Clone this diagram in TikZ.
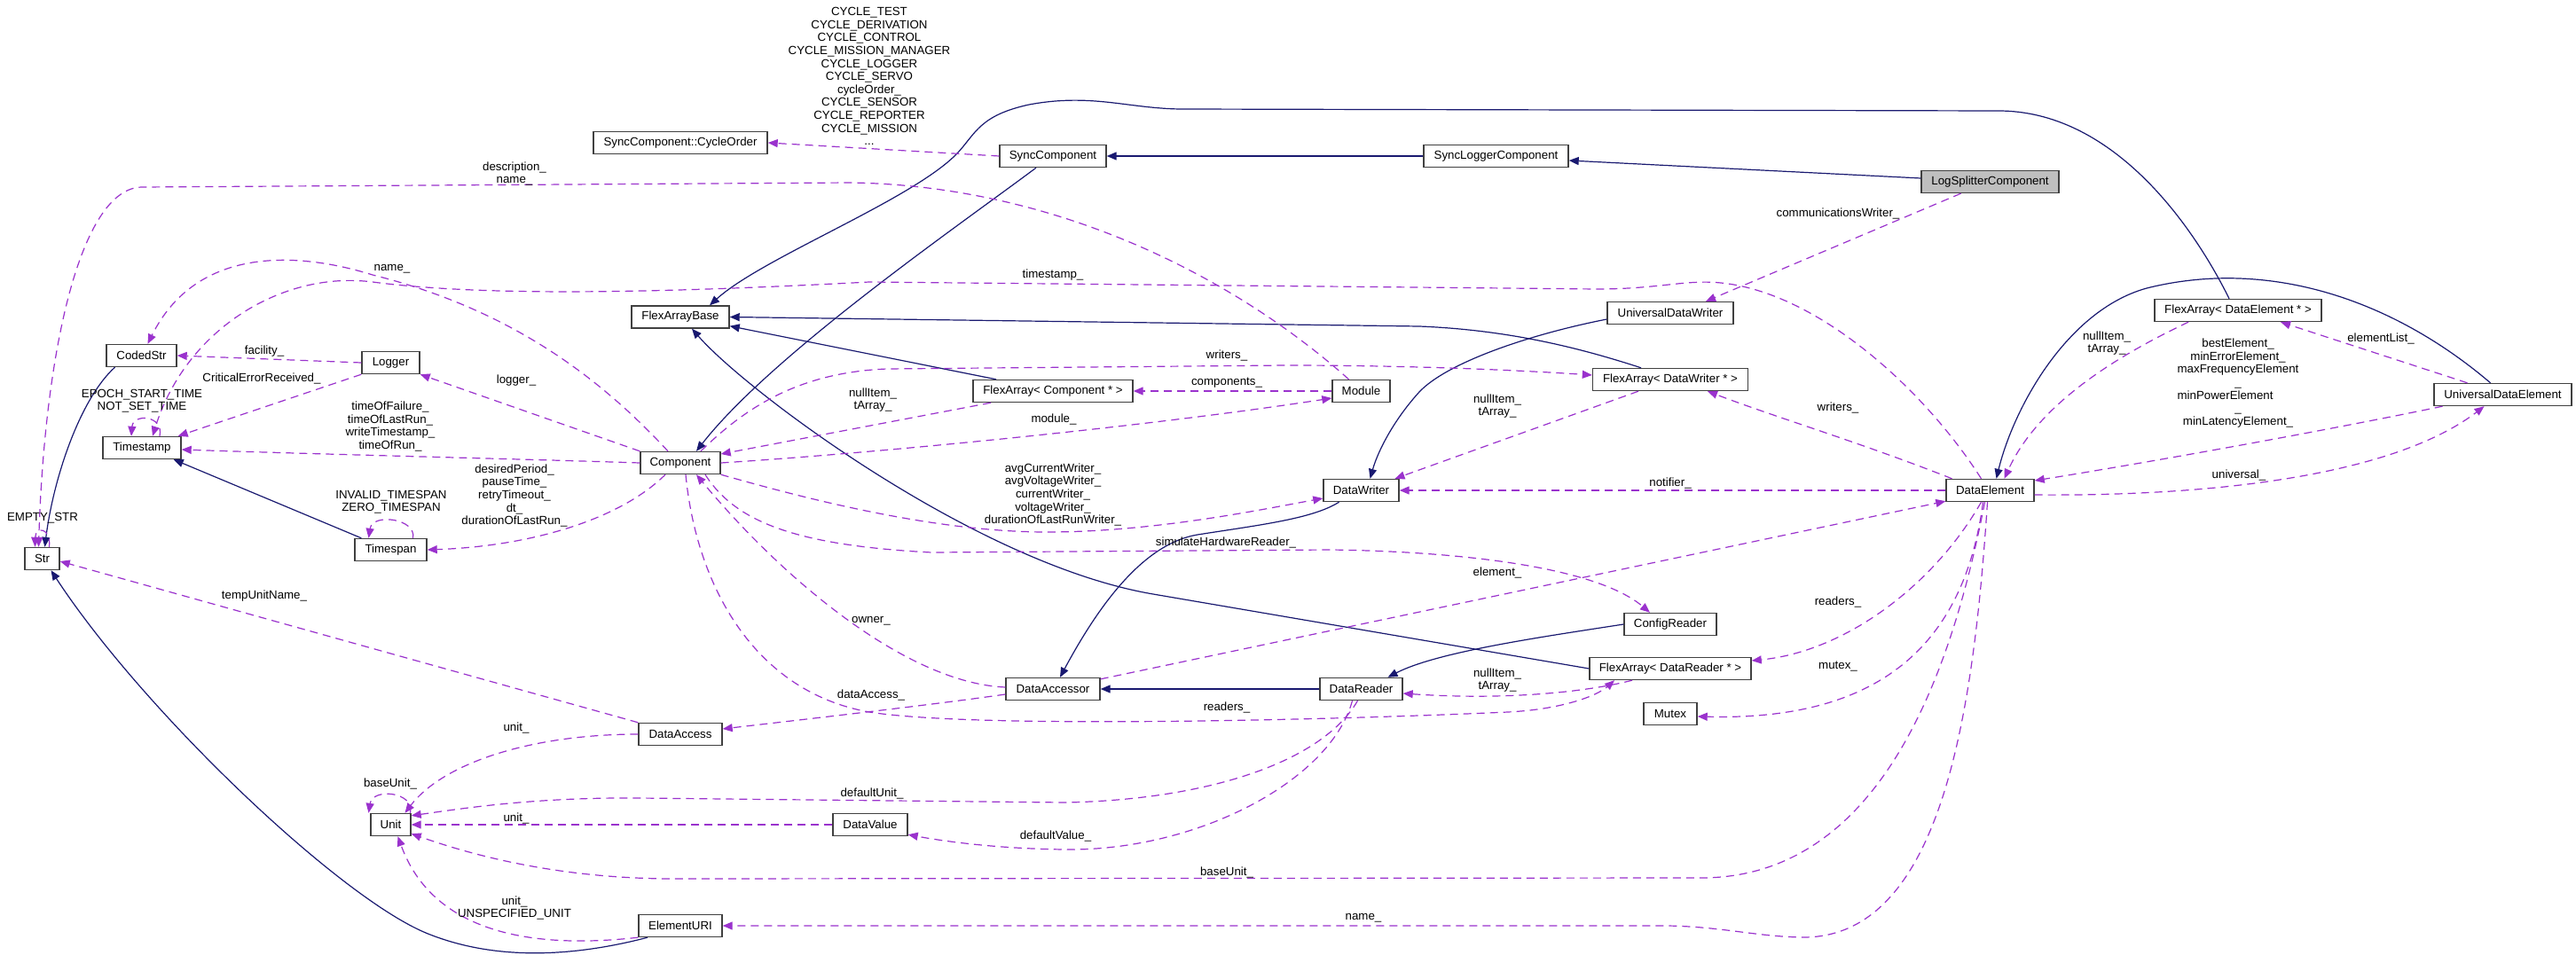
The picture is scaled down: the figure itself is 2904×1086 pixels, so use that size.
\documentclass[tikz,border=0pt]{standalone}
\usepackage{fontspec}
\setmainfont{Liberation Sans}
\usepackage{calc}
\usetikzlibrary{arrows.meta}
\definecolor{dxblue}{RGB}{25,25,112}
\definecolor{dxpurple}{RGB}{154,50,205}
\definecolor{dxgray}{RGB}{191,191,191}
\definecolor{dxborder}{RGB}{64,64,64}
\newcommand{\dxfont}{\fontsize{13.3}{14.6}\selectfont}
\tikzstyle{cls} = [rectangle, draw=dxborder, fill=white, line width=1.4pt, minimum height=25pt, inner sep=0pt, font=\dxfont]
\tikzstyle{inherit} = [line width=1.2pt, draw=dxblue, -{Triangle[length=11pt,width=9pt]}]
\tikzstyle{member} = [line width=1.2pt, draw=dxpurple, dash pattern=on 9pt off 6pt, -{Triangle[length=11pt,width=9pt]}]
\tikzstyle{lbl} = [align=center, inner sep=0pt, font=\dxfont]

\begin{document}
\begin{tikzpicture}[x=1pt, y=-1pt]
\path[use as bounding box, fill=white] (0,0) rectangle (2904,1086);

% Classes
\node (lsc) [cls, minimum width=155pt, fill=dxgray] at (2243.5,205) {LogSplitterComponent};
\node (slc) [cls, minimum width=163pt] at (1686.5,176) {SyncLoggerComponent};
\node (sc) [cls, minimum width=120pt] at (1187,176) {SyncComponent};
\node (co) [cls, minimum width=196pt] at (767,161) {SyncComponent::CycleOrder};
\node (fab) [cls, minimum width=110pt] at (767,357.5) {FlexArrayBase};
\node (comp) [cls, minimum width=90pt] at (767,522) {Component};
\node (cs) [cls, minimum width=79pt] at (159.5,401) {CodedStr};
\node (lg) [cls, minimum width=65pt] at (440.5,409) {Logger};
\node (ts) [cls, minimum width=88pt] at (160,505) {Timestamp};
\node (str) [cls, minimum width=39pt] at (47.5,630) {Str};
\node (tsp) [cls, minimum width=81pt] at (440.5,620) {Timespan};
\node (unit) [cls, minimum width=45pt] at (440.5,930) {Unit};
\node (dac) [cls, minimum width=94pt] at (767,828) {DataAccess};
\node (euri) [cls, minimum width=94pt] at (767,1044) {ElementURI};
\node (dv) [cls, minimum width=84pt] at (981,930) {DataValue};
\node (dacc) [cls, minimum width=106pt] at (1187,777) {DataAccessor};
\node (dr) [cls, minimum width=93pt] at (1534.5,777) {DataReader};
\node (dw) [cls, minimum width=85pt] at (1534.5,553) {DataWriter};
\node (cr) [cls, minimum width=104pt] at (1883,704) {ConfigReader};
\node (fadr) [cls, minimum width=182pt] at (1883,754) {FlexArray< DataReader * >};
\node (mtx) [cls, minimum width=60pt] at (1883,805) {Mutex};
\node (de) [cls, minimum width=99pt] at (2243.5,553) {DataElement};
\node (udw) [cls, minimum width=142pt] at (1883,353) {UniversalDataWriter};
\node (fadw) [cls, minimum width=175pt] at (1883,428) {FlexArray< DataWriter * >};
\node (fac) [cls, minimum width=180pt] at (1187,441) {FlexArray< Component * >};
\node (mod) [cls, minimum width=65pt] at (1534.5,441) {Module};
\node (fade) [cls, minimum width=188pt] at (2523,350) {FlexArray< DataElement * >};
\node (ude) [cls, minimum width=155pt] at (2821.5,445) {UniversalDataElement};

% Inheritance
\draw[inherit] ([yshift=4pt]lsc.west) -- ([yshift=-5pt]slc.east);
\draw[inherit] (slc.west) -- (sc.east);
\draw[inherit] ([xshift=-19pt]sc.south) .. controls (1080,255) and (870,400) .. ([xshift=18pt]comp.north);
\draw[inherit] ([xshift=-10pt]fade.north) .. controls (2470,250) and (2380,125) .. (2253,125) -- (1330,123) .. controls (1270,122) and (1230,105) .. (1160,118) .. controls (1105,130) and (1100,150) .. (1080,172) .. controls (1030,225) and (860,290) .. ([xshift=33pt]fab.north);
\draw[inherit] ([xshift=-33pt]fadw.north) .. controls (1780,392) and (1700,372) .. (1600,368) -- (fab.east);
\draw[inherit] ([xshift=-64pt]fac.north) -- ([yshift=3pt]fab.south east);
\draw[inherit] (fadr.west) -- (1300,670) .. controls (1100,636) and (840,440) .. ([xshift=13pt]fab.south);
\draw[inherit] ([yshift=-7pt]udw.west) .. controls (1720,378) and (1630,410) .. (1600,442) .. controls (1570,475) and (1553,510) .. ([xshift=10pt]dw.north);
\draw[inherit] ([xshift=-25pt]dw.south) .. controls (1480,585) and (1420,592) .. (1350,603) .. controls (1290,613) and (1240,680) .. ([xshift=8pt]dacc.north);
\draw[inherit] (dr.west) -- (dacc.east);
\draw[inherit] (cr.west) .. controls (1740,718) and (1620,735) .. ([xshift=30pt]dr.north);
\draw[inherit] ([xshift=-14pt]ude.north) .. controls (2700,340) and (2560,290) .. (2420,325) .. controls (2330,350) and (2270,460) .. ([xshift=7pt]de.north);
\draw[inherit] ([xshift=-30pt]cs.south) .. controls (90,450) and (60,540) .. ([xshift=3pt]str.north);
\draw[inherit] ([xshift=8pt]tsp.north west) -- ([xshift=-9pt]ts.south east);
\draw[inherit] ([xshift=-37pt]euri.south) .. controls (650,1078) and (560,1085) .. (480,1052) .. controls (380,1010) and (160,800) .. ([xshift=10pt]str.south);

% Members
\draw[member] (sc.west) -- (co.east);
\draw[member] ([xshift=-14pt]mod.north) .. controls (1400,320) and (1200,210) .. (960,206) -- (160,211) .. controls (90,212) and (50,400) .. ([xshift=-4pt]str.north);
\draw[member] ([xshift=-14pt]comp.north) .. controls (680,430) and (580,350) .. (420,310) .. controls (330,282) and (220,280) .. ([xshift=7pt]cs.north);
\draw[member] ([xshift=-10pt]de.north) .. controls (2170,440) and (2050,330) .. (1940,319) .. controls (1900,315) and (1870,326) .. (1800,326) -- (980,318) .. controls (750,330) and (550,335) .. (420,318) .. controls (320,305) and (210,370) .. ([xshift=12pt]ts.north);
\draw[member] (lg.west) -- (cs.east);
\draw[member] (lg.south west) -- ([xshift=-4pt]ts.north east);
\draw[member] (comp.north west) -- (lg.south east);
\draw[member] (comp.west) .. controls (600,518) and (350,512) .. ([yshift=-2pt]ts.east);
\draw[member] ([xshift=-17pt]comp.south) .. controls (700,585) and (600,616) .. (tsp.east);
\draw[member] ([xshift=25pt]tsp.north) .. controls (470,585) and (420,578) .. ([xshift=-25pt]tsp.north);
\draw[member] ([xshift=20pt]ts.north) .. controls (185,468) and (150,466) .. ([xshift=-12pt]ts.north);
\draw[member] ([xshift=8pt]str.north) .. controls (58,595) and (40,593) .. ([xshift=-8pt]str.north);
\draw[member] (dac.north west) -- ([yshift=-3pt]str.east);
\draw[member] (dac.west) .. controls (600,828) and (500,860) .. ([xshift=16pt]unit.north);
\draw[member] ([xshift=22pt]unit.north) .. controls (468,893) and (420,888) .. ([xshift=-25pt]unit.north);
\draw[member] ([xshift=-4pt]dr.south) .. controls (1490,860) and (1360,902) .. (1200,905) -- (720,900) .. controls (600,899) and (520,912) .. ([yshift=-3pt]unit.north east);
\draw[member] (dv.west) -- (unit.east);
\draw[member] ([xshift=-6pt]de.south) .. controls (2200,760) and (2120,988) .. (1920,990) -- (760,991) .. controls (620,991) and (520,960) .. ([yshift=3pt]unit.south east);
\draw[member] (euri.south west) .. controls (560,1075) and (480,1030) .. ([xshift=8pt]unit.south);
\draw[member] ([xshift=-3pt]de.south) .. controls (2225,800) and (2190,1060) .. (2030,1057) .. controls (1980,1056) and (1940,1045) .. (1880,1044) -- (euri.east);
\draw[member] ([xshift=-10pt]dr.south) .. controls (1500,880) and (1350,960) .. (1200,958) .. controls (1120,957) and (1060,948) .. ([yshift=2pt]dv.south east);
\draw[member] ([yshift=2pt]dacc.west) .. controls (1020,770) and (880,650) .. ([xshift=18pt]comp.south);
\draw[member] ([xshift=6pt]comp.south) .. controls (785,660) and (850,780) .. (980,803) .. controls (1100,822) and (1500,812) .. (1700,803) .. controls (1760,800) and (1800,785) .. ([xshift=-63pt]fadr.south);
\draw[member] ([yshift=-6pt]dacc.west) .. controls (1050,795) and (900,812) .. ([yshift=6pt]dac.east);
\draw[member] ([yshift=-2pt]dacc.north east) -- ([yshift=1pt]de.south west);
\draw[member] (comp.south east) .. controls (900,560) and (1050,600) .. (1180,600) .. controls (1300,600) and (1420,575) .. ([yshift=-9pt]dw.west);
\draw[member] ([xshift=28pt]comp.south) .. controls (830,590) and (900,615) .. (1050,623) -- (1500,620) .. controls (1650,622) and (1800,640) .. ([xshift=-23pt]cr.north);
\draw[member] ([xshift=-70pt]fac.south) -- ([yshift=10pt]comp.east);
\draw[member] ([xshift=23pt]comp.north) .. controls (840,460) and (900,420) .. (1000,416) -- (1450,412) .. controls (1600,412) and (1720,418) .. ([yshift=5pt]fadw.west);
\draw[member] (comp.east) .. controls (1000,510) and (1300,480) .. ([yshift=-8pt]mod.west);
\draw[member] (mod.west) -- (fac.east);
\draw[member] (de.west) -- (dw.east);
\draw[member] ([xshift=-43pt]de.north) .. controls (2100,500) and (2000,470) .. ([xshift=42pt]fadw.south);
\draw[member] ([xshift=-36pt]fadw.south) -- ([xshift=38pt]dw.north);
\draw[member] ([xshift=-33pt]lsc.south) -- ([xshift=40pt]udw.north);
\draw[member] ([xshift=-56pt]fade.south) .. controls (2400,395) and (2300,450) .. ([xshift=16pt]de.north);
\draw[member] ([xshift=-68pt]ude.south) .. controls (2600,490) and (2400,525) .. ([yshift=11pt]de.east);
\draw[member] ([yshift=-5pt]de.east) .. controls (2500,560) and (2700,535) .. ([xshift=-21pt]ude.south);
\draw[member] ([xshift=-40pt]ude.north) -- ([xshift=48pt]fade.south);
\draw[member] ([xshift=-10pt]de.south) .. controls (2180,660) and (2080,735) .. ([yshift=9pt]fadr.east);
\draw[member] ([xshift=-8pt]de.south) .. controls (2210,760) and (2080,812) .. ([yshift=-3pt]mtx.east);
\draw[member] ([xshift=-43pt]fadr.south) .. controls (1790,780) and (1700,790) .. ([yshift=-5pt]dr.east);

% Labels
\node (lcycle) [lbl] at (980,86) {CYCLE\_TEST\\CYCLE\_DERIVATION\\CYCLE\_CONTROL\\CYCLE\_MISSION\_MANAGER\\CYCLE\_LOGGER\\CYCLE\_SERVO\\cycleOrder\_\\CYCLE\_SENSOR\\CYCLE\_REPORTER\\CYCLE\_MISSION\\...};
\node (ldesc) [lbl] at (580,196) {description\_\\name\_};
\node (lname1) [lbl] at (442,303) {name\_};
\node (ltime) [lbl] at (1187,310) {timestamp\_};
\node (lfac) [lbl] at (298,396) {facility\_};
\node (lcrit) [lbl] at (295,427) {CriticalErrorReceived\_};
\node (llog) [lbl] at (582,429) {logger\_};
\node (ltof) [lbl] at (440,481) {timeOfFailure\_\\timeOfLastRun\_\\writeTimestamp\_\\timeOfRun\_};
\node (lperiod) [lbl] at (580,559) {desiredPeriod\_\\pauseTime\_\\retryTimeout\_\\dt\_\\durationOfLastRun\_};
\node (lspan) [lbl] at (441,566) {INVALID\_TIMESPAN\\ZERO\_TIMESPAN};
\node (lepoch) [lbl] at (160,452) {EPOCH\_START\_TIME\\NOT\_SET\_TIME};
\node (lempty) [lbl] at (48,584) {EMPTY\_STR};
\node (ltemp) [lbl] at (298,672) {tempUnitName\_};
\node (lunit1) [lbl] at (582,821) {unit\_};
\node (lbase1) [lbl] at (440,884) {baseUnit\_};
\node (ldefunit) [lbl] at (983,895) {defaultUnit\_};
\node (lunit2) [lbl] at (582,923) {unit\_};
\node (lbase2) [lbl] at (1383,984) {baseUnit\_};
\node (lunit3) [lbl] at (580,1024) {unit\_\\UNSPECIFIED\_UNIT};
\node (lname2) [lbl] at (1537,1035) {name\_};
\node (ldefval) [lbl] at (1190,943) {defaultValue\_};
\node (lowner) [lbl] at (982,700) {owner\_};
\node (ldacc) [lbl] at (982,784) {dataAccess\_};
\node (lread1) [lbl] at (1383,798) {readers\_};
\node (lelem) [lbl] at (1688,646) {element\_};
\node (lsim) [lbl] at (1382,612) {simulateHardwareReader\_};
\node (lwriters) [lbl] at (1187,558) {avgCurrentWriter\_\\avgVoltageWriter\_\\currentWriter\_\\voltageWriter\_\\durationOfLastRunWriter\_};
\node (lnull1) [lbl] at (984,451) {nullItem\_\\tArray\_};
\node (lwrit1) [lbl] at (1383,401) {writers\_};
\node (lcomps) [lbl] at (1383,432) {components\_};
\node (lmod) [lbl] at (1188,473) {module\_};
\node (lnull2) [lbl] at (1688,458) {nullItem\_\\tArray\_};
\node (lnotif) [lbl] at (1883,545) {notifier\_};
\node (lcomm) [lbl] at (2072,241) {communicationsWriter\_};
\node (lwrit2) [lbl] at (2072,460) {writers\_};
\node (lnull3) [lbl] at (2375,387) {nullItem\_\\tArray\_};
\node (lbest) [lbl] at (2523,432) {bestElement\_\\minErrorElement\_\\maxFrequencyElement\\\_\\\makebox[\widthof{maxFrequencyElement}][l]{minPowerElement}\\\_\\minLatencyElement\_};
\node (lelist) [lbl] at (2684,382) {elementList\_};
\node (luniv) [lbl] at (2524,536) {universal\_};
\node (lread2) [lbl] at (2072,679) {readers\_};
\node (lmutex) [lbl] at (2072,752) {mutex\_};
\node (lnull4) [lbl] at (1688,767) {nullItem\_\\tArray\_};
\end{tikzpicture}
\end{document}
